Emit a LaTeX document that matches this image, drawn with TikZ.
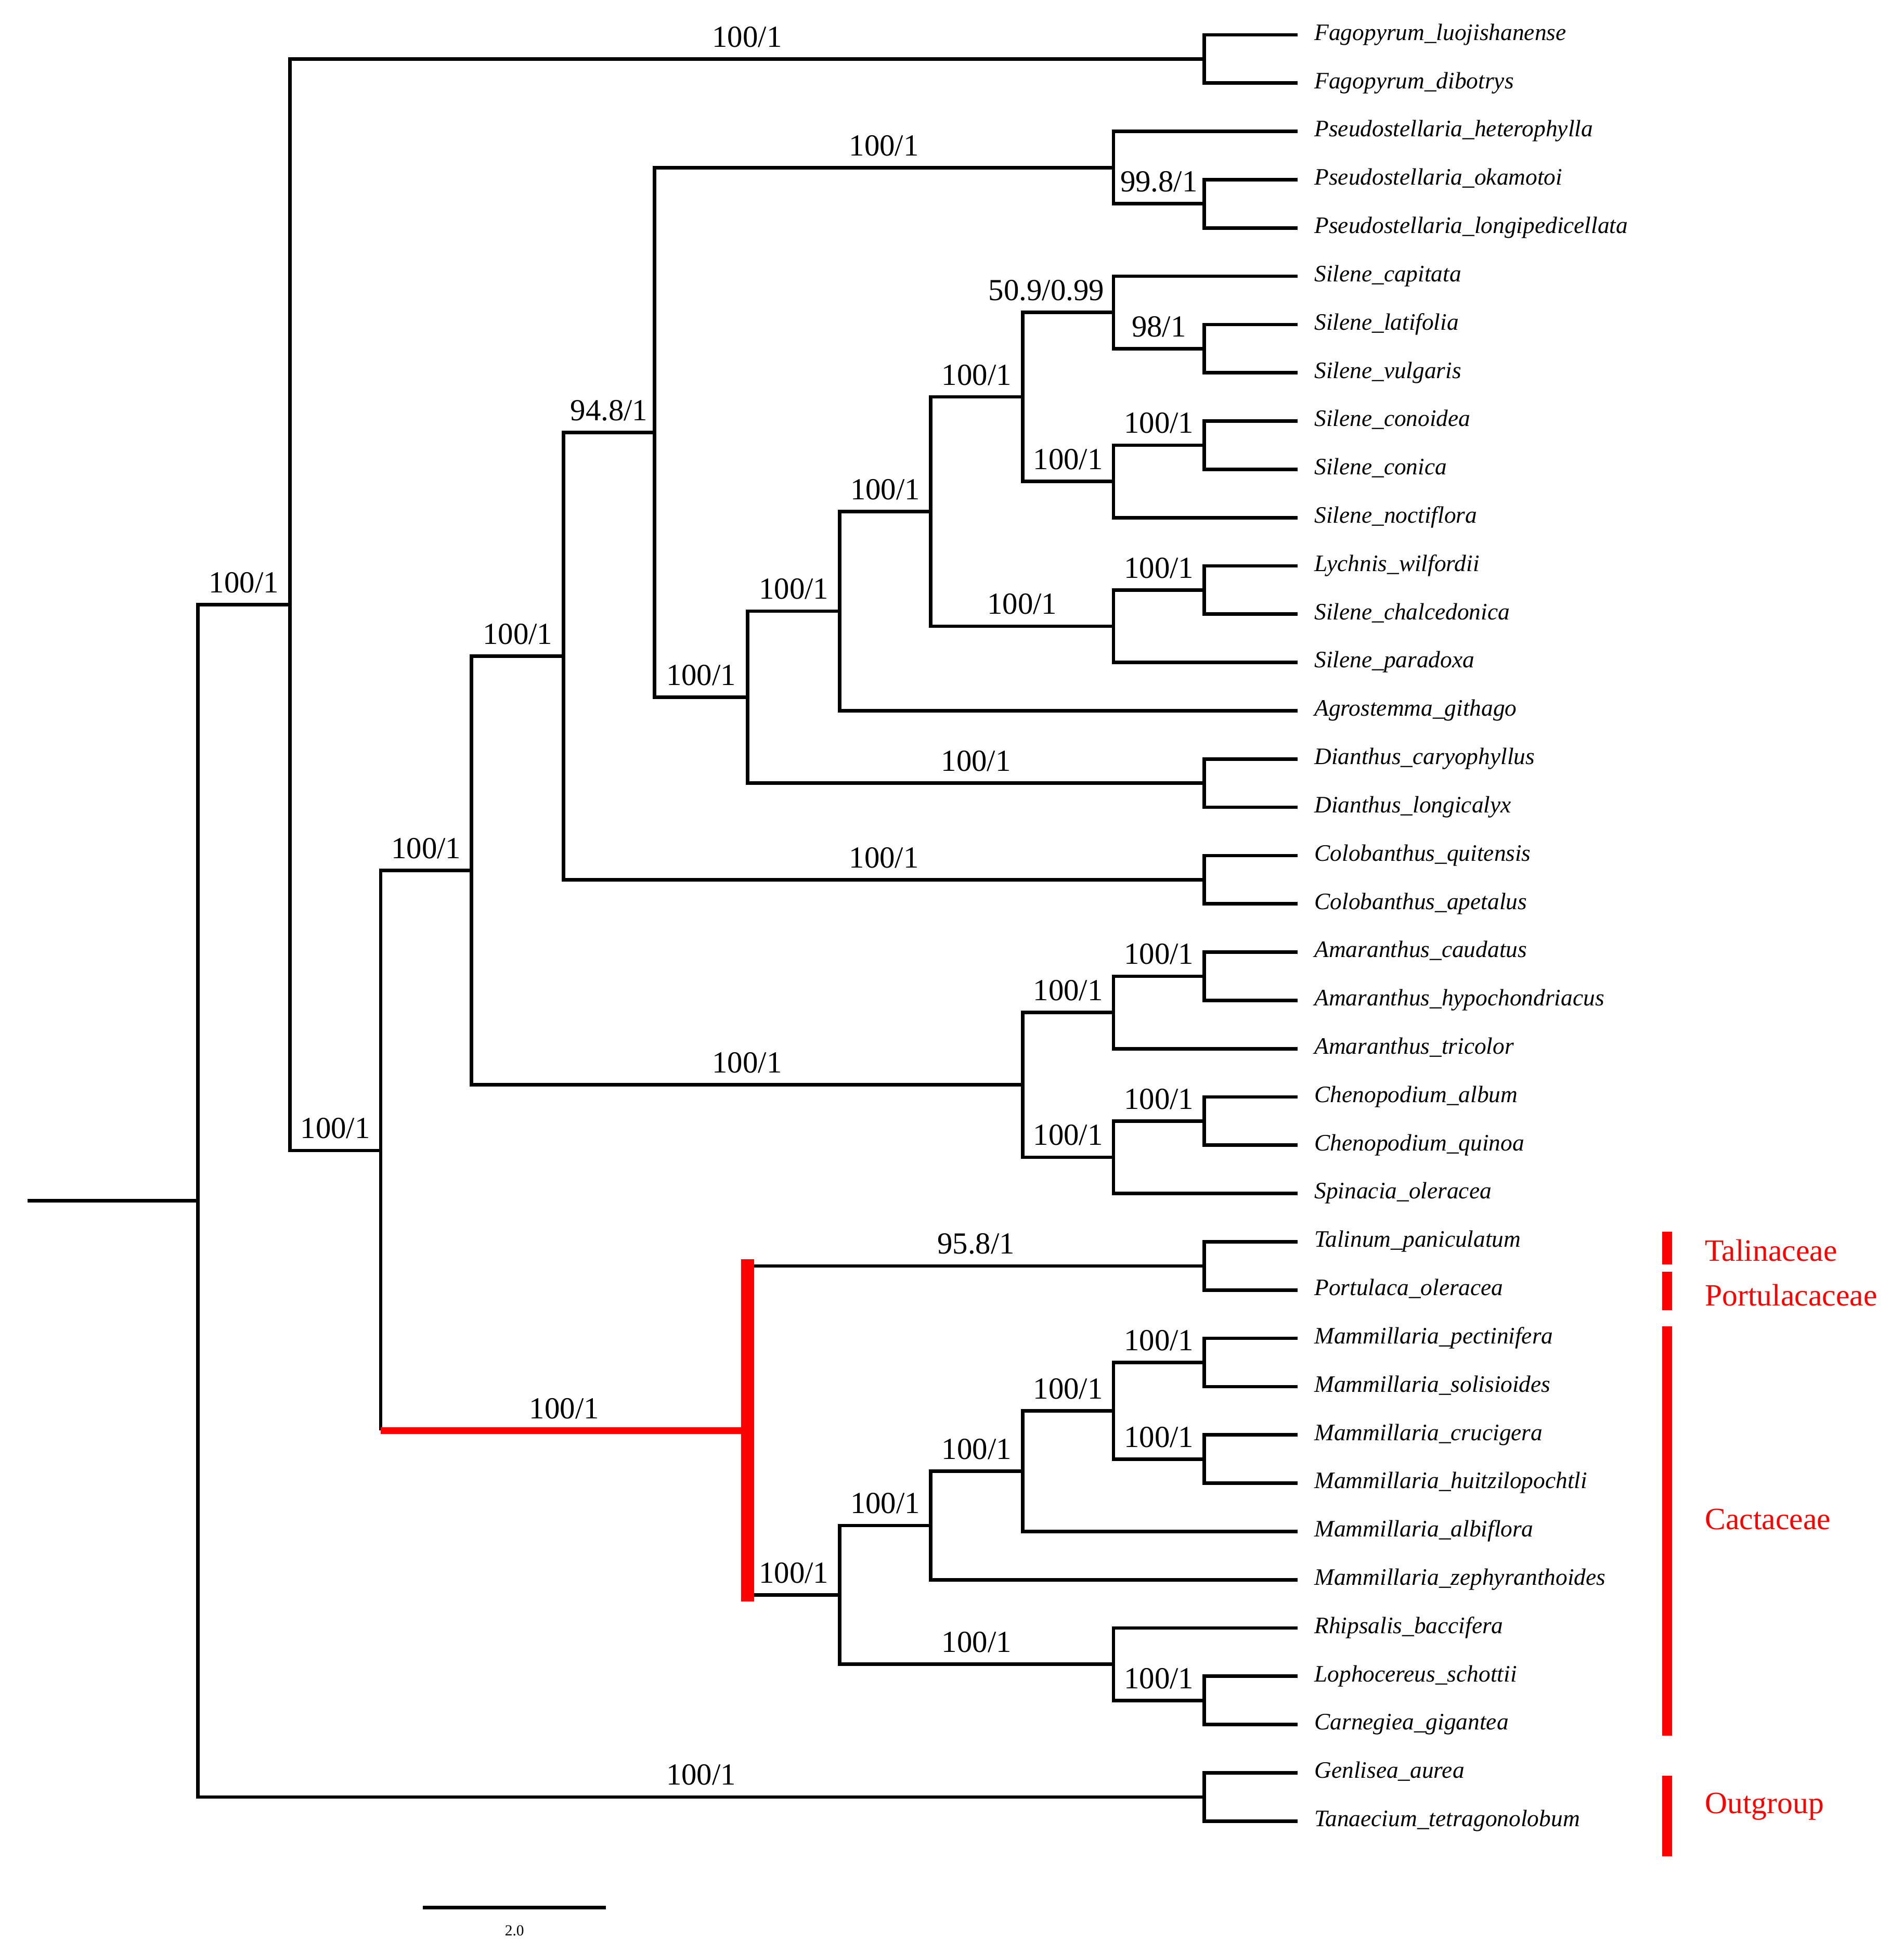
\documentclass[tikz,border=0pt]{standalone}
\usepackage{fontspec}
\setmainfont{Liberation Serif}
\begin{document}
\begin{tikzpicture}[x=0.02cm, y=-0.02cm,
    br/.style={line width=1.6pt},
    supp/.style={font=\fontsize{14}{16}\selectfont, text=black, anchor=base, yshift=5.5pt, inner sep=0pt, pos=0.75},
    leaf/.style={font=\fontsize{10.8}{12}\selectfont\itshape, anchor=west, inner xsep=7.5pt, inner ysep=0pt, text height=7.5pt, text depth=2.6pt},
    grp/.style={font=\fontsize{14.2}{16}\selectfont, text=red, anchor=west, inner sep=0pt},
    grpbar/.style={line width=4.5pt, red}]
  \useasboundingbox (0,0) rectangle (1530,1568);

  \foreach \name [count=\i] in {Fagopyrum\_luojishanense, Fagopyrum\_dibotrys,
      Pseudostellaria\_heterophylla, Pseudostellaria\_okamotoi, Pseudostellaria\_longipedicellata,
      Silene\_capitata, Silene\_latifolia, Silene\_vulgaris, Silene\_conoidea, Silene\_conica,
      Silene\_noctiflora, Lychnis\_wilfordii, Silene\_chalcedonica, Silene\_paradoxa,
      Agrostemma\_githago, Dianthus\_caryophyllus, Dianthus\_longicalyx,
      Colobanthus\_quitensis, Colobanthus\_apetalus, Amaranthus\_caudatus,
      Amaranthus\_hypochondriacus, Amaranthus\_tricolor, Chenopodium\_album,
      Chenopodium\_quinoa, Spinacia\_oleracea, Talinum\_paniculatum, Portulaca\_oleracea,
      Mammillaria\_pectinifera, Mammillaria\_solisioides, Mammillaria\_crucigera,
      Mammillaria\_huitzilopochtli, Mammillaria\_albiflora, Mammillaria\_zephyranthoides,
      Rhipsalis\_baccifera, Lophocereus\_schottii, Carnegiea\_gigantea,
      Genlisea\_aurea, Tanaecium\_tetragonolobum}
    \node[leaf] (l\i) at (1043, {28+38.8*(\i-1)}) {\name};

  \coordinate (stem) at (22,965.1);
  \coordinate (root) at (159,965.1);
  \coordinate (nA) at (233,486);
  \coordinate (fag) at (968,47.4);
  \coordinate (nB) at (306,924.6);
  \coordinate (nC) at (379,699.6);
  \coordinate (nD) at (453,527.3);
  \coordinate (nE) at (526,347.5);
  \coordinate (pse) at (895,134.7);
  \coordinate (pse2) at (968,163.8);
  \coordinate (nF) at (601,560.3);
  \coordinate (nG) at (675,491.2);
  \coordinate (nH) at (748,411.2);
  \coordinate (nI) at (822,319);
  \coordinate (sil50) at (895,251.1);
  \coordinate (sil98) at (968,280.2);
  \coordinate (sil100b) at (895,386.9);
  \coordinate (sil100a) at (968,357.8);
  \coordinate (lyc2) at (895,503.3);
  \coordinate (lyc) at (968,474.2);
  \coordinate (dia) at (968,629.4);
  \coordinate (col) at (968,707);
  \coordinate (nL) at (822,871.9);
  \coordinate (ama) at (895,813.7);
  \coordinate (ama2) at (968,784.6);
  \coordinate (che) at (895,930.1);
  \coordinate (che2) at (968,901);
  \coordinate (nO) at (601,1149.6);
  \coordinate (tal) at (968,1017.4);
  \coordinate (nP) at (675,1281.7);
  \coordinate (nQ) at (748,1226);
  \coordinate (nR) at (822,1182.3);
  \coordinate (nS) at (895,1133.8);
  \coordinate (mam1) at (968,1095);
  \coordinate (mam2) at (968,1172.6);
  \coordinate (car) at (895,1337.5);
  \coordinate (car2) at (968,1366.6);
  \coordinate (out) at (968,1444.2);

  \draw[br] (stem) -- (root);
  \draw[br] (root) |- node[supp] {100/1} (nA);
  \draw[br] (root) |- node[supp] {100/1} (out);
  \draw[br] (nA) |- node[supp] {100/1} (fag);
  \draw[br] (nA) |- node[supp] {100/1} (nB);
  \draw[br] (nB) |- node[supp] {100/1} (nC);
  \draw[br] (nC) |- node[supp] {100/1} (nD);
  \draw[br] (nC) |- node[supp] {100/1} (nL);
  \draw[br] (nD) |- node[supp] {94.8/1} (nE);
  \draw[br] (nD) |- node[supp] {100/1} (col);
  \draw[br] (nE) |- node[supp] {100/1} (pse);
  \draw[br] (nE) |- node[supp] {100/1} (nF);
  \draw[br] (pse) |- node[supp] {99.8/1} (pse2);
  \draw[br] (nF) |- node[supp] {100/1} (nG);
  \draw[br] (nF) |- node[supp] {100/1} (dia);
  \draw[br] (nG) |- node[supp] {100/1} (nH);
  \draw[br] (nH) |- node[supp] {100/1} (nI);
  \draw[br] (nH) |- node[supp] {100/1} (lyc2);
  \draw[br] (nI) |- node[supp, xshift=-0.35cm] {50.9/0.99} (sil50);
  \draw[br] (nI) |- node[supp] {100/1} (sil100b);
  \draw[br] (sil50) |- node[supp] {98/1} (sil98);
  \draw[br] (sil100b) |- node[supp] {100/1} (sil100a);
  \draw[br] (lyc2) |- node[supp] {100/1} (lyc);
  \draw[br] (nL) |- node[supp] {100/1} (ama);
  \draw[br] (nL) |- node[supp] {100/1} (che);
  \draw[br] (ama) |- node[supp] {100/1} (ama2);
  \draw[br] (che) |- node[supp] {100/1} (che2);
  \draw[br] (nO) |- node[supp] {95.8/1} (tal);
  \draw[br] (nO) |- node[supp] {100/1} (nP);
  \draw[br] (nP) |- node[supp] {100/1} (nQ);
  \draw[br] (nP) |- node[supp] {100/1} (car);
  \draw[br] (nQ) |- node[supp] {100/1} (nR);
  \draw[br] (nR) |- node[supp] {100/1} (nS);
  \draw[br] (nS) |- node[supp] {100/1} (mam1);
  \draw[br] (nS) |- node[supp] {100/1} (mam2);
  \draw[br] (car) |- node[supp] {100/1} (car2);

  \foreach \p/\c in {fag/l1, fag/l2, pse/l3, pse2/l4, pse2/l5, sil50/l6, sil98/l7, sil98/l8,
      sil100a/l9, sil100a/l10, sil100b/l11, lyc/l12, lyc/l13, lyc2/l14, nG/l15, dia/l16, dia/l17,
      col/l18, col/l19, ama2/l20, ama2/l21, ama/l22, che2/l23, che2/l24, che/l25, tal/l26, tal/l27,
      mam1/l28, mam1/l29, mam2/l30, mam2/l31, nR/l32, nQ/l33, car/l34, car2/l35, car2/l36,
      out/l37, out/l38}
    \draw[br] (\p) |- (\c);

  \draw[br] (nB) -- (nB |- nO);
  \draw[red, line width=3.1pt] (nB |- nO) -- node[supp, pos=0.5] {100/1} (nO);
  \draw[red, line width=6pt, line cap=rect] (nO |- tal) -- (nO |- nP);

  \draw[grpbar] (1340,990) -- (1340,1016);
  \draw[grpbar] (1340,1022) -- (1340,1053);
  \draw[grpbar] (1340,1066) -- (1340,1395);
  \draw[grpbar] (1340,1427) -- (1340,1492);
  \node[grp] (talin) at (1370,1005) {Talinaceae};
  \node[grp] (portu) at (1370,1041) {Portulacaceae};
  \node[grp] (cact) at (1370,1221) {Cactaceae};
  \node[grp] (outg) at (1370,1452) {Outgroup};

  \coordinate (sb1) at (340,1533);
  \coordinate (sb2) at (487,1533);
  \draw[br] (sb1) -- node[font=\fontsize{7}{8}\selectfont, anchor=base, yshift=-13pt] {2.0} (sb2);
\end{tikzpicture}
\end{document}
